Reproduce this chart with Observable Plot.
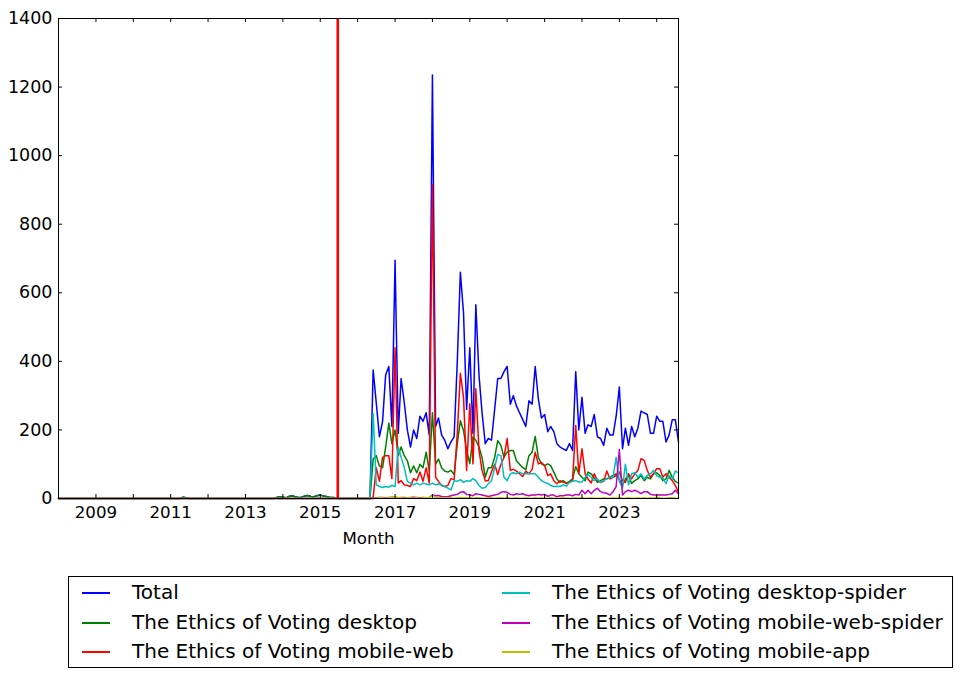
<!DOCTYPE html>
<html><head><meta charset="utf-8">
<script src="https://cdn.jsdelivr.net/npm/d3@7"></script>
<script src="https://cdn.jsdelivr.net/npm/@observablehq/plot@0.6"></script>
<style>
body{margin:0;background:#fff;font-family:"DejaVu Sans",sans-serif;}
#wrap{position:relative;width:963px;height:679px;overflow:hidden;}
#legend{position:absolute;left:68px;top:576px;width:883px;height:90px;border:1px solid #000;background:#fff;}
.item{position:absolute;font-size:20px;line-height:20px;white-space:nowrap;color:#000;}
.sw{position:absolute;height:1.5px;width:28px;}
</style></head><body><div id="wrap"><div id="chart"></div><div id="legend"></div></div>
<script>
// Series names and colours (matplotlib classic b, g, r, c, m, y)
const seriesNames = ["Total","The Ethics of Voting desktop","The Ethics of Voting mobile-web","The Ethics of Voting desktop-spider","The Ethics of Voting mobile-web-spider","The Ethics of Voting mobile-app"];
const seriesColors = ["#0000ff","#008000","#ff0000","#00bfbf","#bf00bf","#bfbf00"];

// Months 2008-01 .. 2016-05 (legacy, almost nothing)
const earlyTotal = [
 0,0,0,0,0,0,0,0,0,0,0,0,
 0,0,0,0,0,0,0,0,0,0,0,0,
 0,0,0,0,0,0,0,0,0,0,0,0,
 0,0,0,0,4,2,0,0,0,0,0,0,
 0,0,0,0,0,0,0,0,0,0,0,0,
 0,0,0,0,0,0,0,0,0,0,3,5,
 4,2,6,8,5,3,4,7,9,6,5,8,
 10,7,6,4,3,2,0,0,0,0,0,0,
 0,0,0,0,0];
const earlyDesktop = earlyTotal;
const earlyOther = [
 0,0,0,0,0,0,0,0,0,0,0,0,
 0,0,0,0,0,0,0,0,0,0,0,0,
 0,0,0,0,0,0,0,0,0,0,0,0,
 0,0,0,0,0,0,0,0,0,0,0,0,
 0,0,0,0,0,0,0,0,0,0,0,0,
 0,0,0,0,0,0,0,0,0,0,0,0,
 0,0,0,0,0,0,0,0,0,0,0,0,
 0,0,0,0,0,0,0,0,0,0,0,0,
 0,0,0,0,0];

// Months 2016-06 .. 2024-08
const total = [
 375,280,180,225,360,385,210,
 695,190,350,280,200,150,200,175,240,225,250,185,
 1235,210,235,185,170,145,165,180,400,660,540,260,
 440,190,565,360,250,160,175,170,260,350,350,370,
 385,275,300,270,250,230,210,285,275,385,290,235,
 245,195,210,195,160,150,145,140,160,140,370,200,
 295,190,215,210,245,180,175,155,205,185,185,240,
 325,145,205,155,210,180,205,255,250,245,190,190,
 240,225,225,165,185,230,230,165];
const desktop = [
 115,125,95,90,150,220,160,
 200,125,150,125,110,75,95,75,100,90,135,80,
 250,100,115,90,80,77,82,70,160,227,198,140,
 102,179,170,150,120,62,90,90,120,169,155,120,
 135,140,140,110,100,90,84,125,135,181,120,101,
 96,101,96,77,57,47,52,44,50,57,93,72,
 62,52,77,72,60,47,52,57,57,62,67,72,
 55,38,57,67,44,52,57,67,52,62,57,72,
 75,67,52,57,82,62,50,45];
const mobileWeb = [
 3,90,50,120,125,125,58,
 440,45,52,40,38,35,58,52,77,50,90,45,
 915,62,50,38,35,38,58,55,190,365,295,82,
 276,101,320,140,82,52,52,78,100,70,100,120,
 175,82,85,80,72,64,80,72,85,135,101,105,
 96,67,72,52,43,52,47,45,47,52,213,72,
 145,72,57,45,72,52,47,50,80,57,62,67,
 77,52,47,72,57,72,82,116,111,82,62,72,
 87,87,62,72,62,52,38,18];
const desktopSpider = [
 248,40,35,32,35,33,38,
 35,150,120,90,50,45,40,45,40,45,42,40,
 45,40,42,40,35,30,25,52,50,55,47,52,
 50,58,52,38,30,32,43,52,91,128,125,62,
 52,72,75,72,77,72,72,72,72,72,62,52,
 47,44,38,35,36,35,40,36,47,50,52,48,
 48,62,70,62,52,57,47,52,57,62,62,120,
 50,30,100,40,72,75,62,72,57,67,72,82,
 67,62,60,43,67,57,80,75];
const mobileWebSpider = [
 0,2,3,3,2,3,4,
 3,2,3,3,2,3,4,3,2,3,2,3,
 10,8,9,6,5,5,8,10,12,18,20,12,
 10,8,14,12,10,8,6,8,10,12,18,20,
 18,12,10,14,12,14,10,8,10,10,12,10,
 12,6,10,10,5,8,8,10,10,8,12,10,
 24,14,24,14,24,30,20,17,15,10,20,35,
 143,10,20,24,20,24,20,14,20,20,12,10,
 10,10,10,10,12,14,24,14];
const mobileApp = [
 0,1,2,2,1,2,3,
 5,2,2,1,2,2,1,2,1,2,2,3,
 8,3,2,2,1,2,2,1,2,3,2,2,
 2,1,2,2,1,1,2,2,1,2,2,1,
 2,1,1,2,1,1,2,1,1,2,1,2,
 1,1,2,1,1,1,2,1,1,1,2,1,
 2,1,1,2,1,1,1,2,1,1,2,1,
 3,1,1,2,1,1,2,1,2,1,2,1,
 4,2,1,1,2,2,1,1];

const firstMonth = "2008-01-01";
const lastMonth = "2024-08-01";
const apiStart = "2015-07-01";
const yTickValues = [0,200,400,600,800,1000,1200,1400];
const xLabelYears = [2009,2011,2013,2015,2017,2019,2021,2023];

const parse = d3.utcParse("%Y-%m-%d");
const start = parse(firstMonth), end = parse(lastMonth);
const months = d3.utcMonths(start, d3.utcMonth.offset(end, 1));

const full = [
  earlyTotal.concat(total),
  earlyDesktop.concat(desktop),
  earlyOther.concat(mobileWeb),
  earlyOther.concat(desktopSpider),
  earlyOther.concat(mobileWebSpider),
  earlyOther.concat(mobileApp)
];
const rows = [];
full.forEach((vals, s) => vals.forEach((v, j) => rows.push({series: seriesNames[s], date: months[j], value: v})));

const yearTicks = d3.utcYears(start, d3.utcDay.offset(end, 1));
const labelDates = xLabelYears.map(y => new Date(Date.UTC(y, 0, 1)));

const W = 963, H = 560, mL = 58, mR = 285, mT = 18, mB = 62;
const fw = W - mL - mR, fh = H - mT - mB;

const chart = Plot.plot({
  width: W, height: H,
  marginLeft: mL, marginRight: mR, marginTop: mT, marginBottom: mB,
  style: {fontFamily: "DejaVu Sans, sans-serif", fontSize: "16.67px", background: "white", color: "black", overflow: "visible"},
  x: {type: "utc", domain: [start, end], label: null},
  y: {domain: [0, 1400], label: null},
  color: {domain: seriesNames, range: seriesColors},
  marks: [
    Plot.lineY(rows, {x: "date", y: "value", stroke: "series", z: "series", strokeWidth: 1.5}),
    Plot.ruleX([parse(apiStart)], {stroke: "#ff0000", strokeWidth: 2.6, dx: -1}),
    Plot.frame({stroke: "black", strokeWidth: 1}),
    Plot.ruleX(yearTicks, {insetTop: fh - 4, stroke: "black"}),
    Plot.ruleX(yearTicks, {insetBottom: fh - 4, stroke: "black"}),
    Plot.ruleY(yTickValues, {insetRight: fw - 4, stroke: "black"}),
    Plot.ruleY(yTickValues, {insetLeft: fw - 4, stroke: "black"}),
    Plot.axisX(labelDates, {tickSize: 0, tickPadding: 8, tickFormat: d => String(d.getUTCFullYear()), fontSize: 16.67, label: null}),
    Plot.axisY(yTickValues, {tickSize: 0, tickPadding: 6, tickFormat: d => String(d), fontSize: 17.5, label: null}),
    Plot.text(["Month"], {frameAnchor: "bottom", dy: 45, fontSize: 16.67, fill: "black"})
  ]
});
document.getElementById("chart").appendChild(chart);

// Legend (two columns, column-major like matplotlib ncol=2)
const legend = document.getElementById("legend");
const colX = [[13, 63], [433, 483]];
const rowY = [15, 45, 74];
seriesNames.forEach((name, i) => {
  const c = Math.floor(i / 3), r = i % 3;
  const sw = document.createElement("div");
  sw.className = "sw";
  sw.style.left = colX[c][0] + "px";
  sw.style.top = rowY[r] + "px";
  sw.style.backgroundColor = seriesColors[i];
  legend.appendChild(sw);
  const t = document.createElement("div");
  t.className = "item";
  t.style.left = colX[c][1] + "px";
  t.style.top = (rowY[r] - 10) + "px";
  t.textContent = name;
  legend.appendChild(t);
});
</script></body></html>
